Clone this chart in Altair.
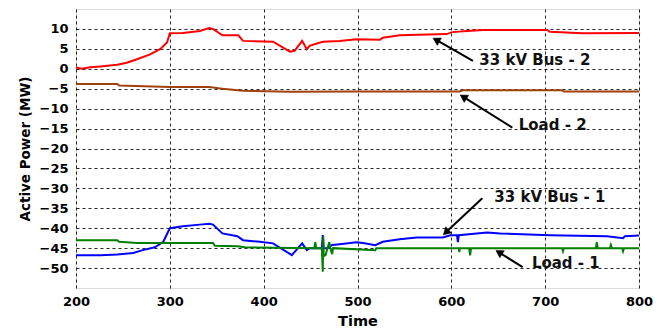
import math
import altair as alt
import pandas as pd

# ---- data ----
bus2_t = [200, 206, 215, 226, 244, 254, 265, 279, 290, 297, 300, 314, 332, 342, 346, 356, 373, 378,
          410, 428, 433, 441, 446, 449, 455, 463, 481, 499, 524, 527, 545, 595, 601, 617, 634, 702,
          705, 740, 800]
bus2_v = [0.3, 0.0, 0.4, 0.6, 1.0, 1.5, 2.4, 3.6, 5.0, 6.6, 8.9, 9.0, 9.5, 10.2, 10.0, 8.4, 8.4, 7.0,
          6.8, 4.3, 4.5, 7.0, 4.9, 5.75, 6.2, 6.8, 7.0, 7.4, 7.3, 7.8, 8.4, 8.7, 9.2, 9.5, 9.75, 9.75,
          9.3, 8.9, 9.0]

load2_t = [200, 244, 246, 300, 342, 356, 378, 428, 500, 609, 612, 718, 720, 800]
load2_v = [-3.8, -3.8, -4.2, -4.6, -4.6, -5.0, -5.5, -5.75, -5.7, -5.7, -5.4, -5.4, -5.7, -5.7]

bus1_t = [200, 226, 244, 261, 271, 284, 293, 300, 314, 332, 342, 346, 356, 372, 378, 396, 410,
          430, 441, 446, 449, 455, 462, 463, 464, 468, 473, 481, 499, 506, 519, 527, 545, 563,
          591, 599, 606, 607, 608, 627, 638, 652, 705, 766, 783, 785, 800]
bus1_v = [-46.8, -46.8, -46.6, -46.2, -45.5, -44.8, -43.4, -40.0, -39.5, -39.1, -38.9, -39.1, -41.3,
          -42.0, -43.0, -43.4, -43.8, -46.75, -43.8, -45.5, -45.0, -45.0, -45.0, -41.75, -45.0,
          -45.0, -44.2, -44.0, -43.5, -43.7, -44.25, -43.4, -42.75, -42.3, -42.3, -41.75, -41.75,
          -43.5, -41.75, -41.3, -41.1, -41.3, -41.75, -42.0, -42.5, -42.0, -41.8]

load1_t = [200, 244, 246, 265, 346, 348, 372, 380, 454, 455, 456, 462, 463, 463.5, 464, 466, 468,
           470, 471, 473, 474, 519, 520, 608, 608.5, 609, 619, 620, 621, 718, 719, 720, 754, 755,
           756, 769, 770, 771, 782, 783, 784, 800]
load1_v = [-43.0, -43.0, -43.4, -43.7, -43.7, -44.4, -44.5, -44.8, -45.0, -43.5, -45.0, -45.0,
           -50.9, -42.0, -47.0, -46.75, -45.0, -43.5, -45.0, -46.5, -45.0, -45.5, -45.0, -45.0,
           -46.0, -45.0, -45.0, -46.8, -45.0, -45.0, -45.8, -45.0, -45.0, -43.5, -45.0, -45.0,
           -44.2, -45.0, -45.0, -45.8, -45.0, -45.0]

series_names = ["33 kV Bus - 2", "Load - 2", "33 kV Bus - 1", "Load - 1"]
series_colors = ["#ff0000", "#a0400a", "#0000ff", "#008000"]

labels = ["33 kV Bus - 2", "Load - 2", "33 kV Bus - 1", "Load - 1"]
label_t = [689, 708, 705, 722]
label_v = [2.3, -14.1, -32.1, -48.75]
tail_t = [623, 665, 633, 676]
tail_v = [2.0, -14.75, -32.5, -49.75]
head_t = [580, 609, 591, 647]
head_v = [7.75, -6.5, -41.75, -45.5]

x_ticks = [200, 300, 400, 500, 600, 700, 800]
y_ticks = [-50, -45, -40, -35, -30, -25, -20, -15, -10, -5, 0, 5, 10]

# ---- build tables ----
rows = []
for name, ts, vs in zip(series_names, [bus2_t, load2_t, bus1_t, load1_t],
                        [bus2_v, load2_v, bus1_v, load1_v]):
    for i, (t, v) in enumerate(zip(ts, vs)):
        rows.append({"series": name, "t": t, "v": v, "i": i})
df = pd.DataFrame(rows)

W, H = 563, 279
sx = W / 600.0
sy = H / 70.0
HEAD_SIZE = 70
r = math.sqrt(HEAD_SIZE) / 2.0
ang, hc_t, hc_v = [], [], []
for a, b, c, d in zip(tail_t, tail_v, head_t, head_v):
    dx = (c - a) * sx
    dy = -(d - b) * sy
    n = math.hypot(dx, dy)
    ux, uy = dx / n, dy / n
    ang.append((math.degrees(math.atan2(dx, -dy)) + 360) % 360)
    hc_t.append(c - ux * r / sx)
    hc_v.append(d + uy * r / sy)
ann = pd.DataFrame({"label": labels, "lt": label_t, "lv": label_v,
                    "tt": tail_t, "tv": tail_v, "ht": head_t, "hv": head_v,
                    "ct": hc_t, "cv": hc_v, "ang": ang})

FONT = "DejaVu Sans"
xs = alt.Scale(domain=[200, 800], nice=False, zero=False)
ys = alt.Scale(domain=[-55, 15], nice=False, zero=False)

x_axis = alt.Axis(values=x_ticks, tickCount=len(x_ticks), title="Time", grid=True, ticks=False,
                  domain=False, labelFont=FONT, labelFontSize=13, labelFontWeight="bold",
                  labelColor="black", labelPadding=7, labelOverlap=False, labelFlush=False,
                  titleFont=FONT, titleFontSize=14.5, titleFontWeight="bold",
                  titleColor="black", titleY=33, titleBaseline="middle",
                  gridColor="black", gridDash=[3, 3], gridOpacity=0.85)
y_axis = alt.Axis(values=y_ticks, tickCount=len(y_ticks), title="Active Power (MW)", grid=True,
                  ticks=False, domain=False, labelFont=FONT, labelFontSize=13,
                  labelFontWeight="bold", labelColor="black", labelPadding=8, labelOverlap=False,
                  titleFont=FONT, titleFontSize=13.5, titleFontWeight="bold",
                  titleColor="black", titleX=-51, titleY=H / 2, titleAngle=270,
                  titleAlign="center", titleBaseline="middle",
                  gridColor="black", gridDash=[3, 3], gridOpacity=0.85)

lines = alt.Chart(df).mark_line(strokeWidth=2, interpolate="linear").encode(
    x=alt.X("t:Q", scale=xs, axis=x_axis),
    y=alt.Y("v:Q", scale=ys, axis=y_axis),
    color=alt.Color("series:N", scale=alt.Scale(domain=series_names, range=series_colors),
                    legend=None),
    order="i:Q",
)

arrow_lines = alt.Chart(ann).mark_rule(color="black", strokeWidth=2).encode(
    x=alt.X("tt:Q", scale=xs), y=alt.Y("tv:Q", scale=ys),
    x2="ct:Q", y2="cv:Q",
)

arrow_heads = alt.Chart(ann).mark_point(
    shape="triangle-up", filled=True, fill="black", stroke="black", strokeWidth=0.5,
    opacity=1, size=HEAD_SIZE
).encode(
    x=alt.X("ct:Q", scale=xs), y=alt.Y("cv:Q", scale=ys),
    angle=alt.Angle("ang:Q", scale=None),
)

texts = alt.Chart(ann).mark_text(font=FONT, fontSize=15, fontWeight="bold", color="#111111",
                                 align="center", baseline="middle").encode(
    x=alt.X("lt:Q", scale=xs), y=alt.Y("lv:Q", scale=ys), text="label:N",
)

chart = alt.layer(lines, arrow_lines, arrow_heads, texts).properties(
    width=W, height=H,
    autosize=alt.AutoSizeParams(type="none"),
    padding={"left": 68, "top": 1, "right": 23, "bottom": 45},
).configure_view(stroke="black", strokeWidth=1.5).configure(background="white")

chart.save("out.html", embed_options={"renderer": "svg", "actions": False})
